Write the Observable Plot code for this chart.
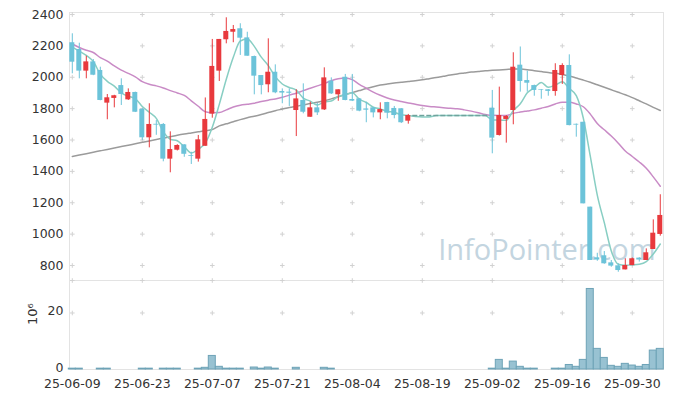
<!DOCTYPE html>
<html><head><meta charset="utf-8">
<script src="https://cdn.jsdelivr.net/npm/d3@7"></script>
<script src="https://cdn.jsdelivr.net/npm/@observablehq/plot@0.6"></script>
<style>body{margin:0;background:#fff}#chart svg{display:block}</style>
</head><body><div id="chart"></div>
<script>
const dates = [
"25-06-09","25-06-10","25-06-11","25-06-12","25-06-13",
"25-06-16","25-06-17","25-06-18","25-06-19","25-06-20",
"25-06-23","25-06-24","25-06-25","25-06-26","25-06-27",
"25-06-30","25-07-01","25-07-02","25-07-03","25-07-04",
"25-07-07","25-07-08","25-07-09","25-07-10","25-07-11",
"25-07-14","25-07-15","25-07-16","25-07-17","25-07-18",
"25-07-21","25-07-22","25-07-23","25-07-24","25-07-25",
"25-07-28","25-07-29","25-07-30","25-07-31","25-08-01",
"25-08-04","25-08-05","25-08-06","25-08-07","25-08-08",
"25-08-11","25-08-12","25-08-13","25-08-14","25-08-18",
"25-08-19","25-08-20","25-08-21","25-08-22","25-08-25",
"25-08-26","25-08-27","25-08-28","25-08-29","25-09-01",
"25-09-02","25-09-03","25-09-04","25-09-05","25-09-08",
"25-09-09","25-09-10","25-09-11","25-09-12","25-09-15",
"25-09-16","25-09-17","25-09-18","25-09-19","25-09-22",
"25-09-23","25-09-24","25-09-25","25-09-26","25-09-29",
"25-09-30","25-10-01","25-10-02","25-10-10","25-10-13"];

const open = [2220,2177,2039,2098,2043,1835,1865,1947,1856,1903,
1796,1614,1700,1699,1478,1535,1569,1500,1478,1560,
1765,2039,2239,2287,2309,2251,2132,2011,1952,2032,
1909,1905,1788,1852,1745,1805,1792,1975,1888,2000,
1858,1862,1798,1805,1773,1839,1801,1799,1720,1756,
1756,1756,1756,1756,1756,1756,1756,1756,1756,1756,
1803,1629,1731,1788,2077,1979,1947,1922,1920,1909,
2011,2075,1700,1713,1172,849,862,817,798,772,
800,847,832,902,998];
const high = [2277,2217,2134,2113,2064,1890,1885,1990,1926,1905,
1800,1831,1724,1705,1652,1570,1570,1522,1629,1868,
2241,2241,2379,2330,2341,2287,2135,2011,2245,2079,
1926,1926,1920,1958,1841,1835,2060,1996,1920,2018,
2018,1865,1841,1808,1837,1840,1814,1800,1763,1756,
1756,1756,1756,1756,1756,1756,1756,1756,1756,1756,
1916,1937,1756,2156,2193,2039,1950,1922,1922,2086,
2086,2143,1702,1713,1172,878,889,832,811,843,
848,850,906,1091,1251];
const low = [2022,1990,1990,2010,1850,1729,1805,1820,1852,1775,
1597,1550,1630,1461,1391,1530,1490,1444,1459,1560,
1739,1973,2213,2220,2139,2134,1888,1888,1901,1895,
1831,1814,1622,1767,1745,1756,1788,1890,1847,1850,
1845,1780,1710,1741,1729,1735,1735,1705,1701,1756,
1756,1756,1756,1756,1756,1756,1756,1756,1756,1756,
1512,1625,1580,1697,1905,1905,1879,1860,1879,1879,
1954,1690,1618,1193,832,827,808,789,757,772,
798,822,832,902,987];
const close = [2096,2039,2098,2013,1852,1869,1882,1890,1903,1777,
1614,1699,1695,1478,1539,1565,1509,1495,1601,1731,
2069,2241,2292,2304,2249,2134,2007,1947,2032,1901,
1899,1898,1862,1777,1805,1773,1996,1894,1920,1852,
1848,1784,1790,1773,1794,1771,1756,1710,1756,1756,
1756,1756,1756,1756,1756,1756,1756,1756,1756,1756,
1612,1756,1750,2064,1973,1962,1916,1918,1910,2043,
2075,1692,1695,1193,832,835,811,796,768,800,
843,835,881,1006,1119];
const volume = [0.3,0.3,0,0,0.3,0.3,0,0,0,0,
0.3,0.3,0,0.3,0.3,0.3,0,0,0.3,0.6,
4.8,0.95,0.3,0.3,0.3,0,0.7,0.3,0.7,0.3,
0,0,0.6,0,0,0,0.6,0.3,0,0,
0,0,0,0,0,0,0,0,0,0,
0,0,0,0,0,0,0,0,0,0,
0.3,3.4,0.3,2.8,0.95,0.3,0.3,0,0,0.3,
0.3,1.6,0.95,3.4,28.5,7.3,4.1,1.3,0.95,2.0,
1.4,0.95,1.6,6.7,7.3];
const ma5 = [2192,2166,2139,2100,2020,1974,1943,1901,1879,1864,
1813,1777,1738,1653,1605,1595,1557,1517,1542,1580,
1681,1827,1987,2127,2231,2244,2197,2128,2074,2004,
1957,1935,1918,1867,1848,1823,1843,1849,1878,1887,
1902,1860,1839,1809,1798,1782,1777,1761,1757,1750,
1747,1747,1756,1756,1756,1756,1756,1756,1756,1756,
1727,1727,1726,1788,1831,1901,1933,1967,1936,1950,
1972,1928,1883,1740,1497,1249,1073,893,808,802,
804,808,825,873,937];
const ma20 = [2212,2190,2172,2158,2125,2103,2072,2045,2025,2003,
1972,1955,1945,1932,1915,1900,1884,1850,1815,1780,
1774,1775,1792,1810,1822,1828,1834,1845,1854,1862,
1872,1886,1898,1915,1930,1945,1960,1978,1990,1995,
1985,1955,1930,1905,1885,1868,1855,1845,1836,1828,
1820,1814,1810,1806,1802,1799,1792,1784,1774,1763,
1757,1756,1756,1770,1778,1785,1792,1803,1814,1830,
1841,1841,1830,1812,1765,1705,1665,1625,1580,1530,
1495,1460,1420,1365,1305];
const ma60 = [1495,1504,1513,1522,1531,1540,1549,1558,1567,1576,
1585,1594,1603,1612,1621,1630,1638,1645,1652,1659,
1667,1690,1703,1716,1730,1742,1752,1763,1775,1787,
1797,1807,1815,1823,1832,1840,1850,1862,1876,1890,
1902,1915,1928,1940,1950,1957,1963,1968,1973,1978,
1984,1991,1998,2006,2014,2021,2027,2033,2037,2041,
2044,2047,2050,2053,2052,2048,2042,2036,2030,2025,
2018,2008,1995,1982,1968,1952,1936,1920,1904,1888,
1870,1850,1830,1808,1788];

const priceTicks = [800,1000,1200,1400,1600,1800,2000,2200,2400];
const volTicks = [0,20];
const dateTickIdx = [0,10,20,30,40,50,60,70,80];
const watermark = "InfoPointer.com";
const volLabel = "10\u2076";

const UP = "#e8393d", DOWN = "#6cc3d9";
const rows = dates.map((date, i) => ({i, date, open: open[i], high: high[i], low: low[i], close: close[i],
  volume: volume[i], ma5: ma5[i], ma20: ma20[i], ma60: ma60[i]}));
const moving = rows.filter(d => d.high > d.low);
const flat = rows.filter(d => d.high === d.low);
const col = d => d.close >= d.open ? UP : DOWN;

const xDomain = [-0.4, 84.46];
const common = {
  width: 673, marginLeft: 69, marginRight: 10,
  style: "background:transparent;overflow:visible;display:block;font-family:'DejaVu Sans';font-size:12.5px;color:#333"
};
const priceGrid = dateTickIdx.flatMap(i => priceTicks.map(p => ({i, p})));
const volGrid = dateTickIdx.flatMap(i => [20, 31.5].map(v => ({i, v})));

const topChart = Plot.plot({
  ...common, height: 280, marginTop: 12, marginBottom: 0,
  color: {type: "identity"},
  x: {domain: xDomain, axis: null},
  y: {domain: [704.4, 2412.75], ticks: priceTicks, tickFormat: d => String(d), tickSize: 0, tickPadding: 6, label: null},
  marks: [
    Plot.frame({stroke: "#e3e3e3"}),
    Plot.dot(priceGrid, {x: "i", y: "p", symbol: "plus", r: 1.6, stroke: "#d2d2d2", strokeWidth: 1}),
    Plot.text([watermark], {text: d => d, frameAnchor: "bottom-right", dx: -8, dy: -21, textAnchor: "end",
      fontSize: 29, fontFamily: "Open Sans", fill: "#c3d5e0"}),
    Plot.lineY(rows, {x: "i", y: "ma60", stroke: "#9b9b9b", strokeWidth: 1.5, curve: "monotone-x"}),
    Plot.lineY(rows, {x: "i", y: "ma20", stroke: "#c98bc6", strokeWidth: 1.5, curve: "monotone-x"}),
    Plot.lineY(rows, {x: "i", y: "ma5", stroke: "#88cec3", strokeWidth: 1.5, curve: "monotone-x"}),
    Plot.ruleX(moving, {x: "i", y1: "low", y2: "high", stroke: col, strokeWidth: 1}),
    Plot.rectY(moving, {x1: d => d.i - 0.5, x2: d => d.i + 0.5, y1: "open", y2: "close", fill: col, insetLeft: 1, insetRight: 1}),
    Plot.ruleY(flat, {y: "close", x1: d => d.i - 0.5, x2: d => d.i + 0.5, insetLeft: 1, insetRight: 1, stroke: "#6fa39d", strokeWidth: 1.5})
  ]
});

const bottomChart = Plot.plot({
  ...common, height: 118, marginTop: 0, marginBottom: 29,
  x: {domain: xDomain},
  y: {domain: [0, 31.5]},
  marks: [
    Plot.frame({stroke: "#e3e3e3"}),
    Plot.axisX({ticks: dateTickIdx, tickFormat: i => dates[i], tickSize: 0, tickPadding: 9.5, label: null}),
    Plot.axisY({ticks: volTicks, tickFormat: d => String(d), tickSize: 0, tickPadding: 6, dy: -1.5, label: null}),
    Plot.dot(volGrid, {x: "i", y: "v", symbol: "plus", r: 1.6, stroke: "#d2d2d2", strokeWidth: 1}),
    Plot.rectY(rows.filter(d => d.volume > 0), {x1: d => d.i - 0.5, x2: d => d.i + 0.5, y: "volume",
      fill: "#98c2d2", stroke: "#6ea3b7", strokeWidth: 1}),
    Plot.text([volLabel], {text: d => d, frameAnchor: "left", dx: -37, rotate: -90, fontSize: 13})
  ]
});

const el = document.getElementById("chart");
el.appendChild(topChart);
el.appendChild(bottomChart);
</script>
</body></html>
